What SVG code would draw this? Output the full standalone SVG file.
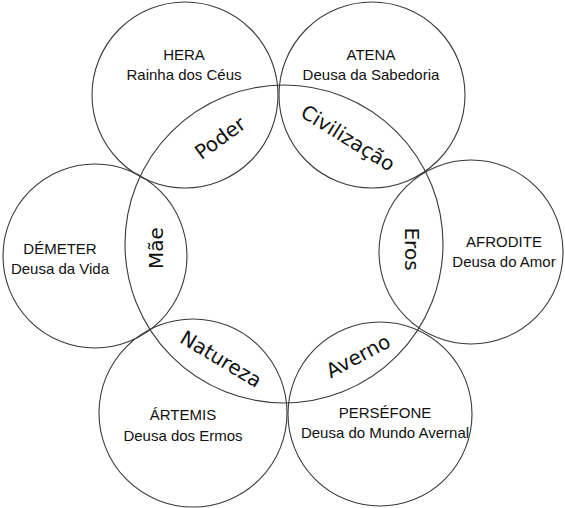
<svg xmlns="http://www.w3.org/2000/svg" width="565" height="508" viewBox="0 0 565 508">
<style>
.c{fill:none;stroke:#3a3a3a;stroke-width:1.1}
.n{font-family:"Liberation Sans","DejaVu Sans",sans-serif;font-size:15px;fill:#111;text-anchor:middle}
.l{font-family:"DejaVu Sans","Liberation Sans",sans-serif;font-size:20px;fill:#111;text-anchor:middle}
</style>
<rect width="565" height="508" fill="#fff"/>
<g id="central"><circle class="c" cx="284" cy="244" r="159"/></g>
<g id="hera"><circle class="c" cx="185" cy="95" r="93"/>
<text class="n" x="184" y="60">HERA</text><text class="n" x="184" y="80">Rainha dos Céus</text></g>
<g id="atena"><circle class="c" cx="372" cy="95" r="93"/>
<text class="n" x="371" y="60">ATENA</text><text class="n" x="371" y="80">Deusa da Sabedoria</text></g>
<g id="demeter"><circle class="c" cx="95" cy="256" r="92"/>
<text class="n" x="60" y="254">DÉMETER</text><text class="n" x="60" y="274">Deusa da Vida</text></g>
<g id="afrodite"><circle class="c" cx="471" cy="252" r="92"/>
<text class="n" x="504" y="247">AFRODITE</text><text class="n" x="504" y="267">Deusa do Amor</text></g>
<g id="artemis"><circle class="c" cx="193" cy="413" r="94"/>
<text class="n" x="183" y="420">ÁRTEMIS</text><text class="n" x="183" y="441">Deusa dos Ermos</text></g>
<g id="persefone"><circle class="c" cx="380" cy="414" r="92"/>
<text class="n" x="385" y="418">PERSÉFONE</text><text class="n" x="385" y="438">Deusa do Mundo Avernal</text></g>
<g id="poder"><text class="l" transform="translate(220,138) rotate(-36)" y="7">Poder</text></g>
<g id="civilizacao"><text class="l" transform="translate(348,138) rotate(32)" y="7">Civilização</text></g>
<g id="mae"><text class="l" transform="translate(156,248) rotate(-90)" y="7">Mãe</text></g>
<g id="eros"><text class="l" transform="translate(412,249) rotate(90)" y="7">Eros</text></g>
<g id="natureza"><text class="l" transform="translate(221,359) rotate(31)" y="7">Natureza</text></g>
<g id="averno"><text class="l" transform="translate(358,356) rotate(-28)" y="7">Averno</text></g>
</svg>
